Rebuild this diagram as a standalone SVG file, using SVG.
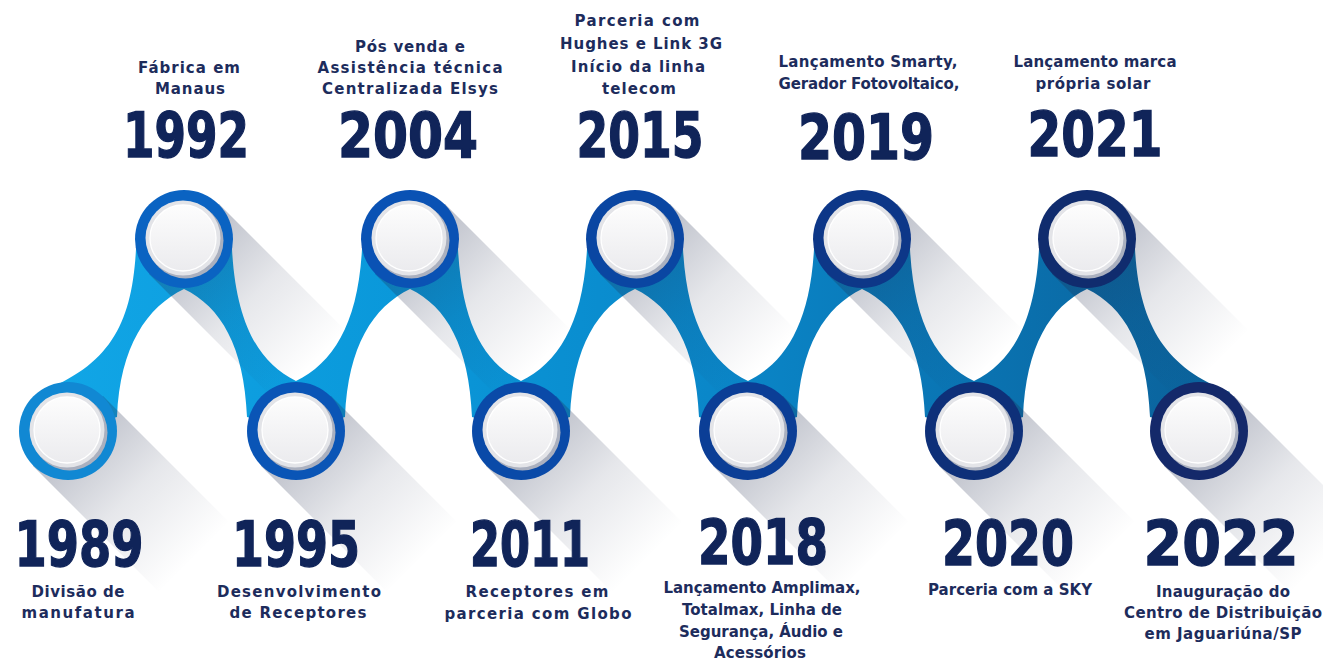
<svg xmlns="http://www.w3.org/2000/svg" width="1323" height="660" viewBox="0 0 1323 660">
<style>
.yr{font-family:"DejaVu Sans Condensed","DejaVu Sans",sans-serif;font-weight:bold;font-size:63px;fill:#102459;stroke:#102459;stroke-width:1.3;text-anchor:middle}
.lb{font-family:"DejaVu Sans","Liberation Sans",sans-serif;font-weight:bold;font-size:15px;fill:#1d2c5c;text-anchor:middle}
.dsh{fill:#aab0bf}
.disc{fill:#e3e4e8}
.din{fill:url(#dg);stroke:#ffffff;stroke-width:1.3}
</style>
<defs>
<linearGradient id="bandg" gradientUnits="userSpaceOnUse" x1="0" y1="0" x2="1323" y2="0">
<stop offset="0" stop-color="#12a8e8"/>
<stop offset="0.3" stop-color="#0a98da"/>
<stop offset="0.55" stop-color="#0a86c8"/>
<stop offset="0.75" stop-color="#0a72b0"/>
<stop offset="1" stop-color="#0b5a90"/>
</linearGradient>
<linearGradient id="shg" gradientUnits="userSpaceOnUse" x1="0" y1="0" x2="127" y2="127">
<stop offset="0" stop-color="#1b2648" stop-opacity="0.3"/>
<stop offset="0.5" stop-color="#1b2648" stop-opacity="0.11"/>
<stop offset="1" stop-color="#1b2648" stop-opacity="0"/>
</linearGradient>
<linearGradient id="dg" x1="0" y1="0" x2="0" y2="1">
<stop offset="0" stop-color="#fdfdfd"/>
<stop offset="1" stop-color="#ebebee"/>
</linearGradient>
<path id="sh" d="M35,-35 L-35,35 L92,162 L162,92 Z" fill="url(#shg)"/>
</defs>
<rect width="1323" height="660" fill="#ffffff"/>

<g id="connectors" fill="url(#bandg)">
<path d="M136,249 C132,324 110,365 40,392 L68,431 L117,417 C120,346 147,307 184,289 L184,239 Z"/>
<path d="M232,249 C236,324 259,363 296,381 L296,431 L247,417 C244,346 221,307 184,289 L184,239 Z"/>
<path d="M362,249 C358,324 333,363 296,381 L296,431 L345,417 C348,346 373,307 410,289 L410,239 Z"/>
<path d="M458,249 C462,324 484,363 521,381 L521,431 L472,417 C469,346 447,307 410,289 L410,239 Z"/>
<path d="M587,249 C583,324 558,363 521,381 L521,431 L570,417 C573,346 598,307 635,289 L635,239 Z"/>
<path d="M683,249 C687,324 711,363 748,381 L748,431 L699,417 C696,346 672,307 635,289 L635,239 Z"/>
<path d="M814,249 C810,324 785,363 748,381 L748,431 L797,417 C800,346 825,307 862,289 L862,239 Z"/>
<path d="M910,249 C914,324 937,363 974,381 L974,431 L925,417 C922,346 899,307 862,289 L862,239 Z"/>
<path d="M1039,249 C1035,324 1011,363 974,381 L974,431 L1023,417 C1026,346 1050,307 1087,289 L1087,239 Z"/>
<path d="M1135,249 C1139,324 1165,368 1230,392 L1199,431 L1150,417 C1147,346 1124,307 1087,289 L1087,239 Z"/>
</g>

<g id="shadows">
<use href="#sh" x="68" y="431"/>
<use href="#sh" x="184" y="239"/>
<use href="#sh" x="296" y="431"/>
<use href="#sh" x="410" y="239"/>
<use href="#sh" x="521" y="431"/>
<use href="#sh" x="635" y="239"/>
<use href="#sh" x="748" y="431"/>
<use href="#sh" x="862" y="239"/>
<use href="#sh" x="974" y="431"/>
<use href="#sh" x="1087" y="239"/>
<use href="#sh" x="1199" y="431"/>
</g>

<g id="node-1989">
<circle cx="68" cy="431" r="49" fill="#1188d3"/>
<circle class="dsh" cx="69.5" cy="432.5" r="38"/>
<circle class="disc" cx="67" cy="430" r="37.5"/>
<circle class="din" cx="67" cy="430" r="33"/>
<text class="yr" x="79" y="566" textLength="129" lengthAdjust="spacingAndGlyphs">1989</text>
<text class="lb" x="78" y="597" textLength="93">Divisão de</text>
<text class="lb" x="78" y="618" textLength="113">manufatura</text>
</g>

<g id="node-1992">
<circle cx="184" cy="239" r="49" fill="#0a63c2"/>
<circle class="dsh" cx="185.5" cy="240.5" r="38"/>
<circle class="disc" cx="183" cy="238" r="37.5"/>
<circle class="din" cx="183" cy="238" r="33"/>
<text class="lb" x="189" y="73" textLength="102">Fábrica em</text>
<text class="lb" x="190" y="94" textLength="70">Manaus</text>
<text class="yr" x="186" y="157" textLength="126" lengthAdjust="spacingAndGlyphs">1992</text>
</g>

<g id="node-1995">
<circle cx="296" cy="431" r="49" fill="#0a55b6"/>
<circle class="dsh" cx="297.5" cy="432.5" r="38"/>
<circle class="disc" cx="295" cy="430" r="37.5"/>
<circle class="din" cx="295" cy="430" r="33"/>
<text class="yr" x="296" y="566" textLength="128" lengthAdjust="spacingAndGlyphs">1995</text>
<text class="lb" x="299" y="597" textLength="164">Desenvolvimento</text>
<text class="lb" x="298" y="618" textLength="137">de Receptores</text>
</g>

<g id="node-2004">
<circle cx="410" cy="239" r="49" fill="#0a52b4"/>
<circle class="dsh" cx="411.5" cy="240.5" r="38"/>
<circle class="disc" cx="409" cy="238" r="37.5"/>
<circle class="din" cx="409" cy="238" r="33"/>
<text class="lb" x="410" y="52" textLength="110">Pós venda e</text>
<text class="lb" x="410" y="73" textLength="185">Assistência técnica</text>
<text class="lb" x="410" y="94" textLength="176">Centralizada Elsys</text>
<text class="yr" x="408" y="157" textLength="140" lengthAdjust="spacingAndGlyphs">2004</text>
</g>

<g id="node-2011">
<circle cx="521" cy="431" r="49" fill="#0a4aa8"/>
<circle class="dsh" cx="522.5" cy="432.5" r="38"/>
<circle class="disc" cx="520" cy="430" r="37.5"/>
<circle class="din" cx="520" cy="430" r="33"/>
<text class="yr" x="530" y="566" textLength="120" lengthAdjust="spacingAndGlyphs">2011</text>
<text class="lb" x="537" y="597" textLength="143">Receptores em</text>
<text class="lb" x="538" y="619" textLength="187">parceria com Globo</text>
</g>

<g id="node-2015">
<circle cx="635" cy="239" r="49" fill="#0a46a2"/>
<circle class="dsh" cx="636.5" cy="240.5" r="38"/>
<circle class="disc" cx="634" cy="238" r="37.5"/>
<circle class="din" cx="634" cy="238" r="33"/>
<text class="lb" x="637" y="26" textLength="125">Parceria com</text>
<text class="lb" x="641" y="49" textLength="162">Hughes e Link 3G</text>
<text class="lb" x="638" y="72" textLength="134">Início da linha</text>
<text class="lb" x="639" y="94" textLength="74">telecom</text>
<text class="yr" x="640" y="157" textLength="127" lengthAdjust="spacingAndGlyphs">2015</text>
</g>

<g id="node-2018">
<circle cx="748" cy="431" r="49" fill="#0b3e96"/>
<circle class="dsh" cx="749.5" cy="432.5" r="38"/>
<circle class="disc" cx="747" cy="430" r="37.5"/>
<circle class="din" cx="747" cy="430" r="33"/>
<text class="yr" x="763" y="564" textLength="130" lengthAdjust="spacingAndGlyphs">2018</text>
<text class="lb" x="762" y="593" textLength="197">Lançamento Amplimax,</text>
<text class="lb" x="762" y="615" textLength="160">Totalmax, Linha de</text>
<text class="lb" x="761" y="637" textLength="164">Segurança, Áudio e</text>
<text class="lb" x="760" y="658" textLength="92">Acessórios</text>
</g>

<g id="node-2019">
<circle cx="862" cy="239" r="49" fill="#0d3788"/>
<circle class="dsh" cx="863.5" cy="240.5" r="38"/>
<circle class="disc" cx="861" cy="238" r="37.5"/>
<circle class="din" cx="861" cy="238" r="33"/>
<text class="lb" x="868" y="67" textLength="179">Lançamento Smarty,</text>
<text class="lb" x="869" y="89" textLength="181">Gerador Fotovoltaico,</text>
<text class="yr" x="866" y="159" textLength="136" lengthAdjust="spacingAndGlyphs">2019</text>
</g>

<g id="node-2020">
<circle cx="974" cy="431" r="49" fill="#0e3079"/>
<circle class="dsh" cx="975.5" cy="432.5" r="38"/>
<circle class="disc" cx="973" cy="430" r="37.5"/>
<circle class="din" cx="973" cy="430" r="33"/>
<text class="yr" x="1008" y="565" textLength="132" lengthAdjust="spacingAndGlyphs">2020</text>
<text class="lb" x="1010" y="595" textLength="164">Parceria com a SKY</text>
</g>

<g id="node-2021">
<circle cx="1087" cy="239" r="49" fill="#102c6e"/>
<circle class="dsh" cx="1088.5" cy="240.5" r="38"/>
<circle class="disc" cx="1086" cy="238" r="37.5"/>
<circle class="din" cx="1086" cy="238" r="33"/>
<text class="lb" x="1095" y="67" textLength="163">Lançamento marca</text>
<text class="lb" x="1093" y="89" textLength="115">própria solar</text>
<text class="yr" x="1095" y="156" textLength="135" lengthAdjust="spacingAndGlyphs">2021</text>
</g>

<g id="node-2022">
<circle cx="1199" cy="431" r="49" fill="#14296a"/>
<circle class="dsh" cx="1200.5" cy="432.5" r="38"/>
<circle class="disc" cx="1198" cy="430" r="37.5"/>
<circle class="din" cx="1198" cy="430" r="33"/>
<text class="yr" x="1221" y="565" textLength="155" lengthAdjust="spacingAndGlyphs">2022</text>
<text class="lb" x="1223" y="597" textLength="134">Inauguração do</text>
<text class="lb" x="1223" y="618" textLength="198">Centro de Distribuição</text>
<text class="lb" x="1223" y="639" textLength="157">em Jaguariúna/SP</text>
</g>
</svg>
